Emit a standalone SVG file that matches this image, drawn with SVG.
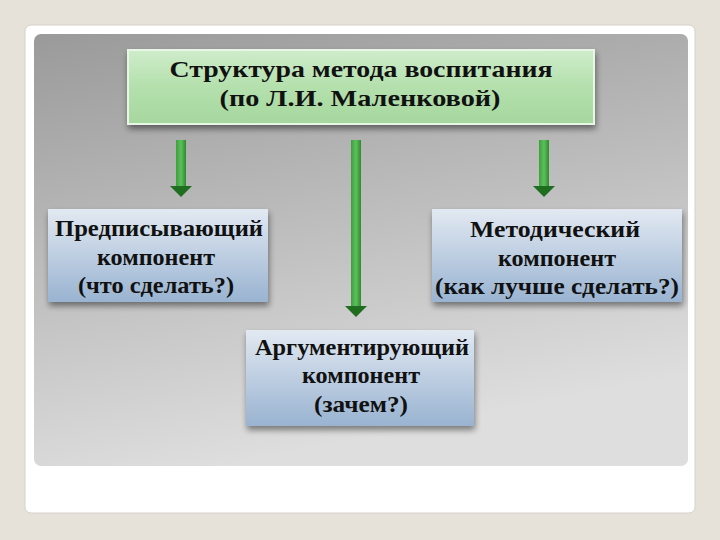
<svg xmlns="http://www.w3.org/2000/svg" width="720" height="540" viewBox="0 0 720 540">
<defs>
<linearGradient id="panel" x1="0" y1="0" x2="0.3" y2="1">
<stop offset="0" stop-color="#9a9a9a"/>
<stop offset="1" stop-color="#dedede"/>
</linearGradient>
<linearGradient id="green" x1="0" y1="0" x2="0" y2="1">
<stop offset="0" stop-color="#cfeccb"/>
<stop offset="0.5" stop-color="#b4e0ad"/>
<stop offset="1" stop-color="#a6d79e"/>
</linearGradient>
<linearGradient id="blue" x1="0" y1="0" x2="0" y2="1">
<stop offset="0" stop-color="#e2e9f2"/>
<stop offset="1" stop-color="#99b3d1"/>
</linearGradient>
<linearGradient id="arrow" x1="0" y1="0" x2="1" y2="0">
<stop offset="0" stop-color="#3e9e3e"/>
<stop offset="0.5" stop-color="#5cc05c"/>
<stop offset="1" stop-color="#2e8a2e"/>
</linearGradient>
<filter id="sh" x="-10%" y="-20%" width="120%" height="150%">
<feGaussianBlur in="SourceAlpha" stdDeviation="3"/>
<feOffset dx="1" dy="4" result="b"/>
<feComponentTransfer><feFuncA type="linear" slope="0.45"/></feComponentTransfer>
<feMerge><feMergeNode/><feMergeNode in="SourceGraphic"/></feMerge>
</filter>
</defs>
<style>
.t{font-family:"Liberation Serif","Times New Roman",serif;font-weight:bold;fill:#111;text-anchor:middle}
.title{font-size:24px}
.lbl{font-size:23px}
.sh{fill:#1f6e1f}
</style>
<rect x="0" y="0" width="720" height="540" fill="#e6e2da"/>
<rect x="25" y="25" width="670" height="488" rx="6" fill="#ffffff" stroke="#d6d2ca" stroke-width="1"/>
<rect x="34" y="34" width="654" height="432" rx="7" fill="url(#panel)"/>

<g id="connectors">
<g id="arrow-left">
<rect x="176" y="140" width="10" height="48" fill="url(#arrow)"/>
<polygon points="170,186 192,186 181,197" class="sh"/>
</g>
<g id="arrow-mid">
<rect x="351" y="140" width="10" height="168" fill="url(#arrow)"/>
<polygon points="345,306 367,306 356,317" class="sh"/>
</g>
<g id="arrow-right">
<rect x="539" y="140" width="10" height="48" fill="url(#arrow)"/>
<polygon points="533,186 555,186 544,197" class="sh"/>
</g>
</g>

<g id="title">
<rect x="128" y="50" width="466" height="74" fill="url(#green)" stroke="#e8f6e6" stroke-width="2" filter="url(#sh)"/>
<text class="t title" x="361" y="77" textLength="383" lengthAdjust="spacingAndGlyphs">Структура метода воспитания</text>
<text class="t title" x="360" y="106" textLength="281" lengthAdjust="spacingAndGlyphs">(по Л.И. Маленковой)</text>
</g>

<g id="node-left">
<rect x="48" y="209" width="220" height="93" fill="url(#blue)" filter="url(#sh)"/>
<text class="t lbl" x="159" y="236" textLength="208" lengthAdjust="spacingAndGlyphs">Предписывающий</text>
<text class="t lbl" x="156" y="265" textLength="118" lengthAdjust="spacingAndGlyphs">компонент</text>
<text class="t lbl" x="156" y="293" textLength="156" lengthAdjust="spacingAndGlyphs">(что сделать?)</text>
</g>

<g id="node-right">
<rect x="432" y="209" width="250" height="93" fill="url(#blue)" filter="url(#sh)"/>
<text class="t lbl" x="555" y="237" textLength="170" lengthAdjust="spacingAndGlyphs">Методический</text>
<text class="t lbl" x="557" y="266" textLength="118" lengthAdjust="spacingAndGlyphs">компонент</text>
<text class="t lbl" x="557" y="294" textLength="244" lengthAdjust="spacingAndGlyphs">(как лучше сделать?)</text>
</g>

<g id="node-bottom">
<rect x="246" y="330" width="228" height="96" fill="url(#blue)" filter="url(#sh)"/>
<text class="t lbl" x="362" y="355" textLength="214" lengthAdjust="spacingAndGlyphs">Аргументирующий</text>
<text class="t lbl" x="361" y="383" textLength="118" lengthAdjust="spacingAndGlyphs">компонент</text>
<text class="t lbl" x="361" y="412" textLength="94" lengthAdjust="spacingAndGlyphs">(зачем?)</text>
</g>
</svg>
